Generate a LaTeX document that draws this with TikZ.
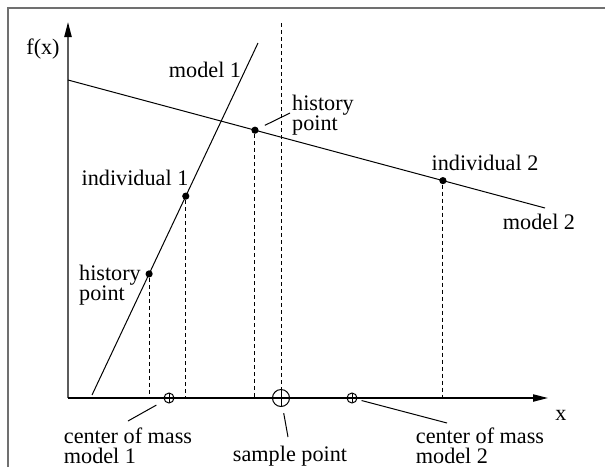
\documentclass[tikz,border=0pt]{standalone}
\usepackage{fontspec}
\setmainfont{Liberation Serif}
\usepackage{tikz}
\usetikzlibrary{arrows.meta,calc}
\definecolor{frameGray}{HTML}{707070}
\definecolor{axisGray}{HTML}{5C5C5C}
\tikzset{
  lbl/.style={font=\fontsize{11.1}{10}\selectfont, inner sep=0pt, align=left},
  dotpt/.style={circle, fill=black, inner sep=0pt, minimum size=3.6pt},
  massmark/.style={circle, draw, line width=0.5pt, inner sep=0pt, minimum size=#1,
    path picture={\draw[line width=0.5pt] (path picture bounding box.north) -- (path picture bounding box.south)
      (path picture bounding box.west) -- (path picture bounding box.east);}},
  model/.style={line width=0.5pt},
  guide/.style={line width=0.5pt, dash pattern=on 2pt off 1.5pt},
  leader/.style={line width=0.5pt},
  axtip/.style={-{Triangle[length=7.5pt,width=3.6pt,color=black]}}
}

\begin{document}
\begin{tikzpicture}[x=0.5pt,y=-0.5pt]
\useasboundingbox (0,0) rectangle (605,467);
% frame
\draw[frameGray, line width=1.2pt] (8,467) -- (8,8) -- (605,8);
% axes
\coordinate (o) at (68,398);
\coordinate (xend) at (548,398);
\coordinate (yend) at (68,22);
\draw[axisGray, line width=0.8pt, axtip] (o) -- (yend);
\draw[line width=0.75pt, axtip] (o) -- (xend);
\node[lbl] (fxlbl) at (43,49) {f(x)};
\node[lbl] (xlbl) at (561,415) {x};
% models
\coordinate (m1a) at (92,395);
\coordinate (m1b) at (258,43);
\coordinate (m2a) at (68,80);
\coordinate (m2b) at (545,208);
\draw[model] (m1a) -- (m1b);
\draw[model] (m2a) -- (m2b);
\node[lbl] (m1lbl) at (205,70) {model 1};
\node[lbl] (m2lbl) at (539,222) {model 2};
% points on the models
\node[dotpt] (hist1) at ($(m1a)!0.344!(m1b)$) {};
\node[dotpt] (ind1) at ($(m1a)!0.565!(m1b)$) {};
\node[dotpt] (hist2) at ($(m2a)!0.392!(m2b)$) {};
\node[dotpt] (ind2) at ($(m2a)!0.786!(m2b)$) {};
\node[lbl] (hist1lbl) at (110,285) {history\\point};
\node[lbl] (ind1lbl) at (135,178) {individual 1};
\node[lbl] (hist2lbl) at (323,115) {history\\point};
\node[lbl] (ind2lbl) at (485,163) {individual 2};
% marks on the x axis
\node[massmark=5pt] (cm1) at (169,398) {};
\node[massmark=8.5pt] (sp) at (281,398) {};
\node[massmark=5pt] (cm2) at (352,398) {};
\node[lbl] (cm1lbl) at (128,446) {center of mass\\model 1};
\node[lbl] (splbl) at (290,456) {sample point};
\node[lbl] (cm2lbl) at (480,446) {center of mass\\model 2};
% dashed guides
\coordinate (sptop) at (281,23);
\draw[guide] (hist1) -- (hist1 |- o);
\draw[guide] (ind1) -- (ind1 |- o);
\draw[guide] (hist2) -- (hist2 |- o);
\draw[guide] (ind2) -- (ind2 |- o);
\draw[guide] (sptop) -- (sp);
% leaders
\coordinate (hist2tip) at (290,113);
\coordinate (cm1tip) at (128,421);
\coordinate (sptip) at (288,437);
\coordinate (cm2tip) at (447,423);
\draw[leader, shorten <=3.5pt] (hist2) -- (hist2tip);
\draw[leader, shorten <=4.5pt] (cm1) -- (cm1tip);
\draw[leader, shorten <=3.2pt] (sp) -- (sptip);
\draw[leader, shorten <=2.2pt] (cm2) -- (cm2tip);
\end{tikzpicture}
\end{document}
